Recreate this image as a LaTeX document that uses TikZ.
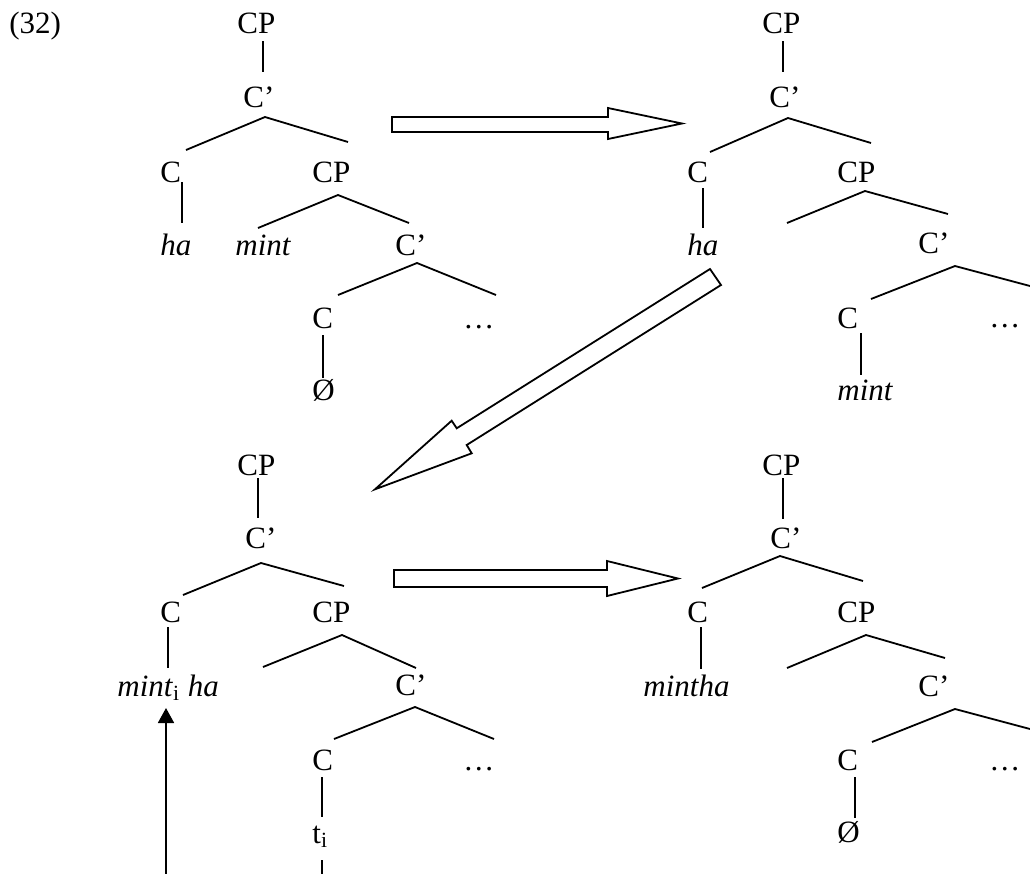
\documentclass[tikz,border=0pt]{standalone}
\usepackage{fontspec}
\setmainfont{Liberation Serif}
\usetikzlibrary{arrows.meta}
\begin{document}
\begin{tikzpicture}[x=0.5pt,y=-0.5pt,
  lbl/.style={inner sep=0pt,anchor=base west,font=\fontsize{15.5}{18}\selectfont},
  edge/.style={line width=0.9pt},
  blockarrow/.style={line width=0.9pt,line join=miter,fill=white},
  movearrow/.style={line width=0.9pt,-{Triangle[width=8pt,length=7.5pt]}}]
\clip (0,0) rectangle (1030,874);

% example number
\node[lbl] (num) at (9,33) {(32)};

% ---------- tree 1 (top left) ----------
\node[lbl] (a-cp)  at (237,33)  {CP};
\node[lbl] (a-cb)  at (243,107) {C’};
\node[lbl] (a-c)   at (160,182) {C};
\node[lbl] (a-ha)  at (160,255) {\itshape ha};
\node[lbl] (a-cp2) at (312,182) {CP};
\node[lbl] (a-mint) at (235,255) {\itshape mint};
\node[lbl] (a-cb2) at (395,255) {C’};
\node[lbl] (a-c2)  at (312,328) {C};
\node[lbl] (a-dots) at (463,328) {…};
\node[lbl] (a-null) at (312,400) {Ø};
\draw[edge] (263,41) -- (263,72);
\draw[edge] (186,150) -- (265,117) -- (348,142);
\draw[edge] (182,182) -- (182,223);
\draw[edge] (258,228) -- (338,195) -- (409,223);
\draw[edge] (338,295) -- (417,263) -- (496,295);
\draw[edge] (323,335) -- (323,378);

% ---------- tree 2 (top right) ----------
\node[lbl] (b-cp)  at (762,33)  {CP};
\node[lbl] (b-cb)  at (769,107) {C’};
\node[lbl] (b-c)   at (687,182) {C};
\node[lbl] (b-ha)  at (687,255) {\itshape ha};
\node[lbl] (b-cp2) at (837,182) {CP};
\node[lbl] (b-cb2) at (918,253) {C’};
\node[lbl] (b-c2)  at (837,328) {C};
\node[lbl] (b-dots) at (989,327) {…};
\node[lbl] (b-mint) at (837,400) {\itshape mint};
\draw[edge] (783,41) -- (783,72);
\draw[edge] (710,152) -- (788,118) -- (871,143);
\draw[edge] (703,188) -- (703,228);
\draw[edge] (787,223) -- (865,191) -- (948,214);
\draw[edge] (871,299) -- (955,266) -- (1045,290);
\draw[edge] (861,333) -- (861,375);

% ---------- tree 3 (bottom left) ----------
\node[lbl] (c-cp)  at (237,475) {CP};
\node[lbl] (c-cb)  at (245,548) {C’};
\node[lbl] (c-c)   at (160,622) {C};
\node[lbl] (c-head) at (117,696) {\itshape mint\/\upshape\textsubscript{i} \itshape ha};
\node[lbl] (c-cp2) at (312,622) {CP};
\node[lbl] (c-cb2) at (395,695) {C’};
\node[lbl] (c-c2)  at (312,770) {C};
\node[lbl] (c-dots) at (463,770) {…};
\node[lbl] (c-trace) at (312,843) {t\textsubscript{i}};
\draw[edge] (258,478) -- (258,518);
\draw[edge] (183,595) -- (261,563) -- (344,586);
\draw[edge] (168,627) -- (168,668);
\draw[edge] (263,667) -- (342,635) -- (416,668);
\draw[edge] (334,739) -- (415,707) -- (494,739);
\draw[edge] (322,777) -- (322,817);
% movement path from the trace back up to the head
\coordinate (trace-out) at (322,860);
\coordinate (trace-low) at (322,890);
\coordinate (move-low)  at (166,890);
\coordinate (move-tip)  at (166,708);
\draw[edge] (trace-out) -- (trace-low);
\draw[movearrow] (move-low) -- (move-tip);

% ---------- tree 4 (bottom right) ----------
\node[lbl] (d-cp)  at (762,475) {CP};
\node[lbl] (d-cb)  at (770,548) {C’};
\node[lbl] (d-c)   at (687,622) {C};
\node[lbl] (d-head) at (643,696) {\itshape mintha};
\node[lbl] (d-cp2) at (837,622) {CP};
\node[lbl] (d-cb2) at (918,696) {C’};
\node[lbl] (d-c2)  at (837,770) {C};
\node[lbl] (d-dots) at (989,770) {…};
\node[lbl] (d-null) at (837,842) {Ø};
\draw[edge] (783,478) -- (783,519);
\draw[edge] (702,588) -- (780,556) -- (863,581);
\draw[edge] (701,627) -- (701,669);
\draw[edge] (787,668) -- (866,635) -- (945,658);
\draw[edge] (872,742) -- (955,709) -- (1045,733);
\draw[edge] (855,777) -- (855,818);

% ---------- derivation arrows ----------
\draw[blockarrow] (392,117) -- (608,117) -- (608,108) -- (682,123.5)
  -- (608,139) -- (608,132) -- (392,132) -- cycle;
\draw[blockarrow] (710,269) -- (456.7,428.3) -- (451.7,420.7) -- (375,489.3)
  -- (471.7,453.3) -- (466.7,445) -- (721,285) -- cycle;
\draw[blockarrow] (394,570) -- (607,570) -- (607,561) -- (678,578.5)
  -- (607,596) -- (607,587) -- (394,587) -- cycle;
\end{tikzpicture}
\end{document}
